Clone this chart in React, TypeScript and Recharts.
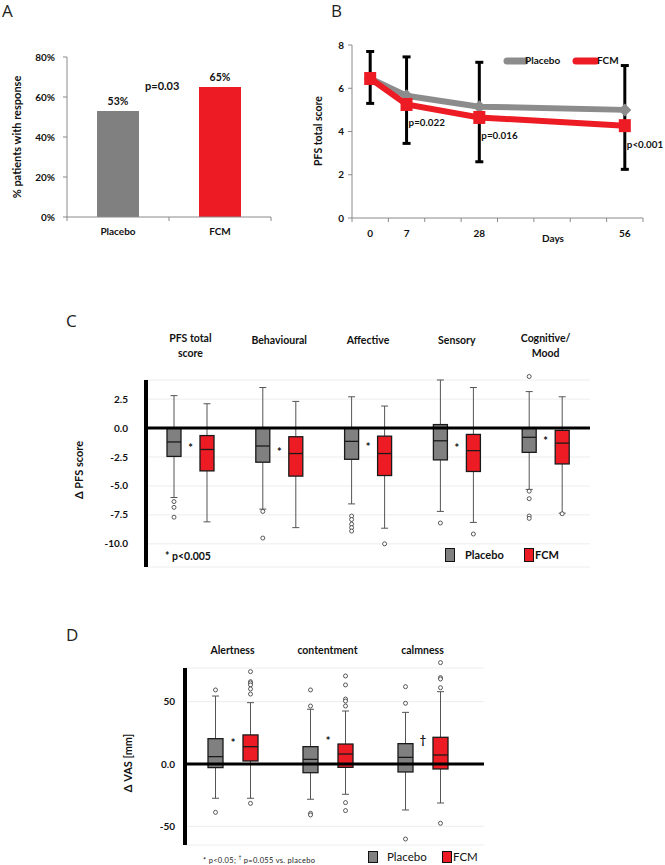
import React from 'react'
import {
  BarChart,
  Bar,
  Cell,
  XAxis,
  YAxis,
  LabelList,
  ComposedChart,
  Line,
  ErrorBar,
  ReferenceLine,
  CartesianGrid,
} from 'recharts'

// panel A: responders
const responseGroups = ['Placebo', 'FCM']
const responseRates = [53, 65]
const responseTicks = [0, 20, 40, 60, 80]

// panel B: PFS total score over time (x slots of an Excel category axis)
const dayLabels = ['0', '7', '28', '56']
const daySlots = [0, 1, 3, 7]
const pfsPlacebo = [6.45, 5.65, 5.15, 5.0]
const pfsFcm = [6.45, 5.25, 4.65, 4.27]
const pfsErrLow = [5.3, 3.45, 2.6, 2.25]
const pfsErrHigh = [7.7, 7.45, 7.2, 7.05]
const pfsPValues = ['', 'p=0.022', 'p=0.016', 'p<0.001']
const pfsTicks = [0, 2, 4, 6, 8]

// panel C: change in PFS, [lower whisker, Q1, median, Q3, upper whisker]
const domainNames = ['PFS total\nscore', 'Behavioural', 'Affective', 'Sensory', 'Cognitive/\nMood']
const domainPlacebo = [
  [-6.0, -2.45, -1.2, 0.0, 2.8],
  [-7.0, -2.95, -1.55, 0.0, 3.5],
  [-6.55, -2.7, -1.15, 0.0, 2.7],
  [-7.2, -2.75, -1.1, 0.3, 4.15],
  [-5.3, -2.1, -0.8, 0.0, 3.15],
]
const domainPlaceboOut = [
  [-6.35, -6.85, -7.7],
  [-7.2, -9.5],
  [-7.6, -7.9, -8.3, -8.6, -8.9],
  [-8.2],
  [4.45, -5.45, -6.1, -7.6, -7.8],
]
const domainFcm = [
  [-8.1, -3.7, -1.85, -0.65, 2.1],
  [-8.6, -4.15, -2.2, -0.75, 2.3],
  [-8.65, -4.1, -2.2, -0.7, 1.9],
  [-8.15, -3.75, -1.95, -0.55, 3.5],
  [-7.35, -3.1, -1.3, -0.2, 2.7],
]
const domainFcmOut = [[], [], [-10.0], [-9.15], [-7.4]]
const domainSig = ['*', '*', '*', '*', '*']
const domainSigY = [-1.6, -2.0, -1.55, -1.6, -1.05]
const domainTicks = [-10, -7.5, -5, -2.5, 0, 2.5]

// panel D: change in VAS
const vasNames = ['Alertness', 'contentment', 'calmness']
const vasPlacebo = [
  [-27.5, -2.9, 5.9, 20.3, 54.5],
  [-28.3, -7.0, 3.7, 13.9, 43.9],
  [-36.9, -6.4, 5.3, 16.3, 41.4],
]
const vasPlaceboOut = [
  [59.4, -38.8],
  [59.4, 46.5, -39.6, -40.9],
  [62, 48.7, -60.2],
]
const vasFcm = [
  [-27.5, 2.4, 13.9, 23.3, 49.2],
  [-24.3, -2.7, 8.0, 16.0, 42.5],
  [-31.3, -4.0, 7.2, 21.4, 58.0],
]
const vasFcmOut = [
  [74.1, 66, 65, 63.4, 60.2, 56.1, -31.6],
  [70.6, 63.4, 52.1, 50.5, 46.5, -31, -37.4],
  [81.3, 69.3, 68.2, 61.2, -47.6],
]
const vasSig = ['*', '*', '†']
const vasSigY = [17.6, 19.2, 20]
const vasTicks = [-50, 0, 50]

const GRAY = '#808080'
const RED = '#ed1c24'
const AXIS = '#8a8a8a'
const FONT = 'Lato, "Open Sans", sans-serif'
const tickStyle = { fontSize: 10, fontWeight: 700, fill: '#111', fontFamily: FONT }

const responseRows = responseGroups.map((g, i) => ({ group: g, rate: responseRates[i] }))
const responseColors = [GRAY, RED]

const trendRows = dayLabels.map((d, i) => ({
  slot: daySlots[i],
  day: d,
  placebo: pfsPlacebo[i],
  fcm: pfsFcm[i],
  err: [pfsFcm[i] - pfsErrLow[i], pfsErrHigh[i] - pfsFcm[i]],
  p: pfsPValues[i],
}))

const domainRows = domainNames.map((n, i) => ({
  name: n,
  placebo: domainPlacebo[i],
  placeboOut: domainPlaceboOut[i],
  fcm: domainFcm[i],
  fcmOut: domainFcmOut[i],
  sig: domainSig[i],
  sigY: domainSigY[i],
}))

const vasRows = vasNames.map((n, i) => ({
  name: n,
  placebo: vasPlacebo[i],
  placeboOut: vasPlaceboOut[i],
  fcm: vasFcm[i],
  fcmOut: vasFcmOut[i],
  sig: vasSig[i],
  sigY: vasSigY[i],
}))

// A: x ticks sit on category borders, labels in the middle
const HALF_A = 51
const ResponseTick = (props: any) => {
  const { x, y, payload, index } = props
  return (
    <g>
      <line x1={x - HALF_A} x2={x - HALF_A} y1={y} y2={y + 4} stroke={AXIS} />
      {index === responseGroups.length - 1 && <line x1={x + HALF_A} x2={x + HALF_A} y1={y} y2={y + 4} stroke={AXIS} />}
      <text x={x} y={y + 18} textAnchor="middle" {...tickStyle}>
        {payload.value}
      </text>
    </g>
  )
}

function ResponseChart() {
  return (
    <BarChart width={300} height={250} data={responseRows} margin={{ top: 57, right: 29, bottom: 8, left: 27 }}>
      <XAxis dataKey="group" height={25} stroke={AXIS} tickLine={false} tickSize={0} tickMargin={0} interval={0} tick={<ResponseTick />} />
      <YAxis
        width={40}
        domain={[0, 80]}
        ticks={responseTicks}
        tickFormatter={(v) => `${v}%`}
        stroke={AXIS}
        tickSize={4}
        tickMargin={8}
        tick={tickStyle}
      />
      <Bar dataKey="rate" barSize={42} isAnimationActive={false}>
        {responseRows.map((r, i) => (
          <Cell key={r.group} fill={responseColors[i]} />
        ))}
        <LabelList dataKey="rate" position="top" offset={6} formatter={(v: any) => `${v}%`} style={{ ...tickStyle, fontSize: 10.5 }} />
      </Bar>
    </BarChart>
  )
}

// B: numeric slots, ticks on borders, labels half a slot to the right
const HALF_B = 291 / 16
const SlotTick = (props: any) => {
  const { x, y, payload } = props
  const i = daySlots.indexOf(payload.value + 0.5)
  if (i < 0) return null
  return (
    <text x={x + HALF_B} y={y + 15} textAnchor="middle" {...tickStyle}>
      {dayLabels[i]}
    </text>
  )
}

const diamond = (p: any) => {
  const { cx, cy, index } = p
  const s = 6.5
  return <path key={`d${index}`} d={`M${cx},${cy - s}L${cx + s},${cy}L${cx},${cy + s}L${cx - s},${cy}Z`} fill="#8c8c8c" />
}
const square = (p: any) => {
  const { cx, cy, index } = p
  return <rect key={`s${index}`} x={cx - 6} y={cy - 6.5} width={12} height={13} fill={RED} />
}

const PLabel = (p: any) => {
  const { x, y, value } = p
  if (!value) return null
  return (
    <text x={x + 2} y={y + 22} {...tickStyle} fontSize={9.8}>
      {value}
    </text>
  )
}

function TrendChart() {
  return (
    <ComposedChart width={365} height={250} data={trendRows} margin={{ top: 45, right: 22, bottom: 7, left: 22 }}>
      <XAxis
        dataKey="slot"
        type="number"
        domain={[-0.5, 7.5]}
        ticks={[-0.5, 0.5, 1.5, 2.5, 3.5, 4.5, 5.5, 6.5, 7.5]}
        interval={0}
        height={25}
        stroke={AXIS}
        tickSize={4}
        tickMargin={0}
        tick={<SlotTick />}
      />
      <YAxis width={30} domain={[0, 8]} ticks={pfsTicks} stroke={AXIS} tickSize={4} tickMargin={4} tick={tickStyle} />
      <Line dataKey="placebo" stroke="#8c8c8c" strokeWidth={6} dot={diamond} isAnimationActive={false} />
      <Line dataKey="fcm" stroke={RED} strokeWidth={6} dot={square} isAnimationActive={false} />
      <Line dataKey="fcm" stroke="none" dot={false} activeDot={false} isAnimationActive={false}>
        <ErrorBar dataKey="err" direction="y" width={4} strokeWidth={3} stroke="#000" />
        <LabelList dataKey="p" content={<PLabel />} />
      </Line>
    </ComposedChart>
  )
}

// box drawn inside a range bar [lower whisker, upper whisker]
const makeBox = (key: string, outKey: string, fill: string, gap: number, withSig: boolean) => (props: any) => {
  const { x, y, width, height, payload, index } = props
  const [lo, q1, med, q3, hi] = payload[key]
  const py = (v: number) => y + ((hi - v) / (hi - lo)) * height
  const cx = x + width / 2
  const cap = 3.5
  return (
    <g key={`${key}${index}`}>
      <line x1={cx} x2={cx} y1={py(hi)} y2={py(q3)} stroke="#555" strokeWidth={1} />
      <line x1={cx} x2={cx} y1={py(q1)} y2={py(lo)} stroke="#555" strokeWidth={1} />
      <line x1={cx - cap} x2={cx + cap} y1={py(hi)} y2={py(hi)} stroke="#555" strokeWidth={1} />
      <line x1={cx - cap} x2={cx + cap} y1={py(lo)} y2={py(lo)} stroke="#555" strokeWidth={1} />
      <rect x={x} y={py(q3)} width={width} height={py(q1) - py(q3)} fill={fill} stroke="#1a1a1a" strokeWidth={1.3} />
      <line x1={x} x2={x + width} y1={py(med)} y2={py(med)} stroke="#1a1a1a" strokeWidth={1.3} />
      {payload[outKey].map((v: number, j: number) => (
        <circle key={j} cx={cx} cy={py(v)} r={2} fill="#fff" stroke="#333" strokeWidth={0.8} />
      ))}
      {withSig && (
        <text x={x + width + gap / 2} y={py(payload.sigY) + 5} textAnchor="middle" fontFamily={FONT} fontWeight={700} fontSize={11} fill="#111">
          {payload.sig}
        </text>
      )}
    </g>
  )
}

const titleTick = (lineOffsets: number[], singleOffset: number) => (props: any) => {
  const { x, y, payload } = props
  const lines = String(payload.value).split('\n')
  return (
    <g>
      {lines.map((l, i) => (
        <text
          key={i}
          x={x}
          y={y + (lines.length > 1 ? lineOffsets[i] : singleOffset)}
          textAnchor="middle"
          fontFamily={FONT}
          fontWeight={700}
          fontSize={10.5}
          fill="#111"
        >
          {l}
        </text>
      ))}
    </g>
  )
}

const C_GAP = 19
const D_GAP = 20

function DomainChart() {
  return (
    <ComposedChart
      width={665}
      height={300}
      data={domainRows}
      margin={{ top: 40, right: 75, bottom: 33, left: 86 }}
      barGap={C_GAP}
      barSize={14}
    >
      <CartesianGrid vertical={false} stroke="#ededed" />
      <XAxis
        dataKey="name"
        orientation="top"
        height={40}
        axisLine={false}
        tickLine={false}
        tickSize={0}
        tickMargin={0}
        interval={0}
        tick={titleTick([-38, -23], -36)}
      />
      <YAxis
        width={60}
        domain={[-12, 4]}
        ticks={domainTicks}
        tickFormatter={(v) => v.toFixed(1)}
        axisLine={{ stroke: '#000', strokeWidth: 4 }}
        tickLine={false}
        tickSize={0}
        tickMargin={18}
        tick={tickStyle}
      />
      <ReferenceLine y={0} stroke="#000" strokeWidth={3} />
      <Bar
        dataKey={(d: any) => [d.placebo[0], d.placebo[4]]}
        shape={makeBox('placebo', 'placeboOut', GRAY, C_GAP, true)}
        isAnimationActive={false}
      />
      <Bar
        dataKey={(d: any) => [d.fcm[0], d.fcm[4]]}
        shape={makeBox('fcm', 'fcmOut', RED, C_GAP, false)}
        isAnimationActive={false}
      />
    </ComposedChart>
  )
}

function VasChart() {
  return (
    <ComposedChart
      width={665}
      height={245}
      data={vasRows}
      margin={{ top: 8, right: 181, bottom: 20, left: 125 }}
      barGap={D_GAP}
      barSize={15}
    >
      <CartesianGrid vertical={false} stroke="#ededed" />
      <XAxis
        dataKey="name"
        orientation="top"
        height={40}
        axisLine={false}
        tickLine={false}
        tickSize={0}
        tickMargin={0}
        interval={0}
        padding={{ left: 0, right: 14 }}
        tick={titleTick([-14, 0], -14)}
      />
      <YAxis
        width={60}
        domain={[-65, 77]}
        ticks={vasTicks}
        tickFormatter={(v) => (v === 0 ? '0.0' : `${v}`)}
        axisLine={{ stroke: '#000', strokeWidth: 4 }}
        tickLine={false}
        tickSize={0}
        tickMargin={10}
        tick={tickStyle}
      />
      <ReferenceLine y={0} stroke="#000" strokeWidth={3} />
      <Bar
        dataKey={(d: any) => [d.placebo[0], d.placebo[4]]}
        shape={makeBox('placebo', 'placeboOut', GRAY, D_GAP, true)}
        isAnimationActive={false}
      />
      <Bar
        dataKey={(d: any) => [d.fcm[0], d.fcm[4]]}
        shape={makeBox('fcm', 'fcmOut', RED, D_GAP, false)}
        isAnimationActive={false}
      />
    </ComposedChart>
  )
}

const abs = (left: number, top: number, extra: React.CSSProperties = {}): React.CSSProperties => ({
  position: 'absolute',
  left,
  top,
  ...extra,
})

const VLabel = ({ x, y, text, size }: { x: number; y: number; text: string; size: number }) => (
  <div
    style={abs(x, y, {
      transform: 'translate(-50%, -50%) rotate(-90deg)',
      whiteSpace: 'nowrap',
      fontWeight: 700,
      fontSize: size,
      lineHeight: 1.2,
    })}
  >
    {text}
  </div>
)

const Letter = ({ x, y, c }: { x: number; y: number; c: string }) => (
  <div style={abs(x, y, { fontFamily: '"Open Sans", sans-serif', fontSize: 17, lineHeight: 1.3, color: '#222' })}>{c}</div>
)

const BoxKey = ({ x, y, fill, w = 10, h = 13 }: { x: number; y: number; fill: string; w?: number; h?: number }) => (
  <div style={abs(x, y, { width: w - 2, height: h - 2, background: fill, border: '1px solid #111' })} />
)

export default function App() {
  return (
    <div
      style={{
        position: 'absolute',
        left: 0,
        top: 0,
        width: 665,
        height: 865,
        background: '#fff',
        fontFamily: FONT,
        color: '#111',
        overflow: 'hidden',
      }}
    >
      <Letter x={2} y={0} c="A" />
      <Letter x={331} y={0} c="B" />
      <Letter x={66} y={310} c="C" />
      <Letter x={66} y={624} c="D" />

      <div style={abs(0, 0)}>
        <ResponseChart />
      </div>
      <VLabel x={17} y={137} text="% patients with response" size={11} />
      <div style={abs(145, 79, { fontWeight: 700, fontSize: 11, lineHeight: 1.2 })}>p=0.03</div>

      <div style={abs(300, 0)}>
        <TrendChart />
      </div>
      <VLabel x={318} y={131} text="PFS total score" size={10.5} />
      <div style={abs(542, 232, { fontWeight: 700, fontSize: 10, lineHeight: 1.2 })}>Days</div>
      <svg style={abs(503, 55)} width={26} height={12}>
        <line x1={4} x2={22} y1={6} y2={6} stroke="#8c8c8c" strokeWidth={7} strokeLinecap="round" />
      </svg>
      <div style={abs(525, 54, { fontWeight: 700, fontSize: 10, lineHeight: 1.2 })}>Placebo</div>
      <svg style={abs(571, 55)} width={28} height={12}>
        <line x1={5} x2={25} y1={6} y2={6} stroke={RED} strokeWidth={7} strokeLinecap="round" />
      </svg>
      <div style={abs(597, 54, { fontWeight: 700, fontSize: 10, lineHeight: 1.2 })}>FCM</div>

      <div style={abs(0, 300)}>
        <DomainChart />
      </div>
      <VLabel x={79} y={470} text="Δ PFS score" size={11} />
      <div style={abs(165, 550, { fontWeight: 700, fontSize: 10.5, lineHeight: 1.2 })}>* p&lt;0.005</div>
      <BoxKey x={445} y={548} fill={GRAY} h={14} />
      <div style={abs(465, 548, { fontWeight: 700, fontSize: 11, lineHeight: 1.2 })}>Placebo</div>
      <BoxKey x={524} y={548} fill={RED} h={14} />
      <div style={abs(535, 548, { fontWeight: 700, fontSize: 11, lineHeight: 1.2 })}>FCM</div>

      <div style={abs(0, 620)}>
        <VasChart />
      </div>
      <VLabel x={128} y={763} text="Δ VAS [mm]" size={11} />
      <div style={abs(203, 854, { fontSize: 7.5, lineHeight: 1.2, letterSpacing: 0.3, color: '#222' })}>
        * p&lt;0.05; <sup style={{ fontSize: 5 }}>†</sup> p=0.055 vs. placebo
      </div>
      <BoxKey x={368} y={851} fill={GRAY} h={12} />
      <div style={abs(387, 850, { fontSize: 11.5, lineHeight: 1.2 })}>Placebo</div>
      <BoxKey x={442} y={851} fill={RED} h={12} />
      <div style={abs(453, 850, { fontSize: 11.5, lineHeight: 1.2 })}>FCM</div>
    </div>
  )
}
